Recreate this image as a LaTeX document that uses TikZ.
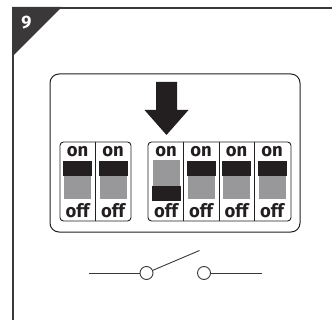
\documentclass[tikz,border=0pt]{standalone}
\usepackage{fontspec}
\setmainfont{Fira Sans}
\definecolor{ink}{HTML}{231F20}
\definecolor{dark}{HTML}{3A3839}
\definecolor{slot}{HTML}{98989B}
\tikzset{x=1pt,y=-1pt,
  frameline/.style={draw=dark,line width=2pt},
  panel/.style={draw=ink,line width=1pt,rounded corners=9pt},
  bank/.style={draw=ink,line width=0.9pt,rounded corners=3.5pt},
  divider/.style={draw=ink,line width=0.8pt},
  slotfill/.style={fill=slot},
  slider/.style={fill=ink},
  lbl/.style={font=\fontsize{18.5}{18.5}\selectfont\bfseries,text=ink,inner sep=0pt,anchor=base},
  wire/.style={draw=dark,line width=0.9pt},
  term/.style={circle,draw=dark,line width=0.9pt,minimum size=13pt,inner sep=0pt}}
\begin{document}
\begin{tikzpicture}
\useasboundingbox (0,0) rectangle (336,320);
\draw[frameline] (13,320) -- (13,8) -- (332,8);
\fill[dark] (12,7) -- (62,7) -- (13,56) -- (12,56) -- cycle;
\node[font=\fontsize{18}{18}\selectfont\bfseries,text=white,inner sep=0pt] (num) at (26.5,23) {9};
\draw[panel] (50,74) rectangle (300,232);
\draw[bank] (60,142) rectangle (131,221);
\draw[bank] (148,142) rectangle (291,221);
\foreach \x in {95.5,183,219,254} \draw[divider] (\x,142) -- (\x,221);
\foreach \c/\n in {77.5/a,113/b,166/c,201/d,236.5/e,272/f}{
  \node[lbl] (on\n) at (\c,157) {on};
  \node[lbl] (off\n) at (\c,217) {off};
}
\foreach \c in {77.5,113,201,236.5,272}{
  \fill[slotfill] (\c-13.5,175.7) rectangle (\c+13.5,199);
  \fill[slider] (\c-14.5,160.7) rectangle (\c+14.5,175.7);
}
\fill[slotfill] (152.5,160) rectangle (180,186);
\fill[slider] (152,186) rectangle (181,201);
\fill[ink] (156,82) -- (177,82) -- (177,110) -- (188.5,110) -- (166.5,135) -- (144.5,110) -- (156,110) -- cycle;
\node[term] (t1) at (146.5,273) {};
\node[term] (t2) at (204,273) {};
\coordinate (la) at (89,273);
\coordinate (rb) at (262,273);
\coordinate (arm) at (199.5,250.5);
\draw[wire] (la) -- (t1);
\draw[wire] (t2) -- (rb);
\draw[wire] (t1) -- (arm);
\end{tikzpicture}
\end{document}
